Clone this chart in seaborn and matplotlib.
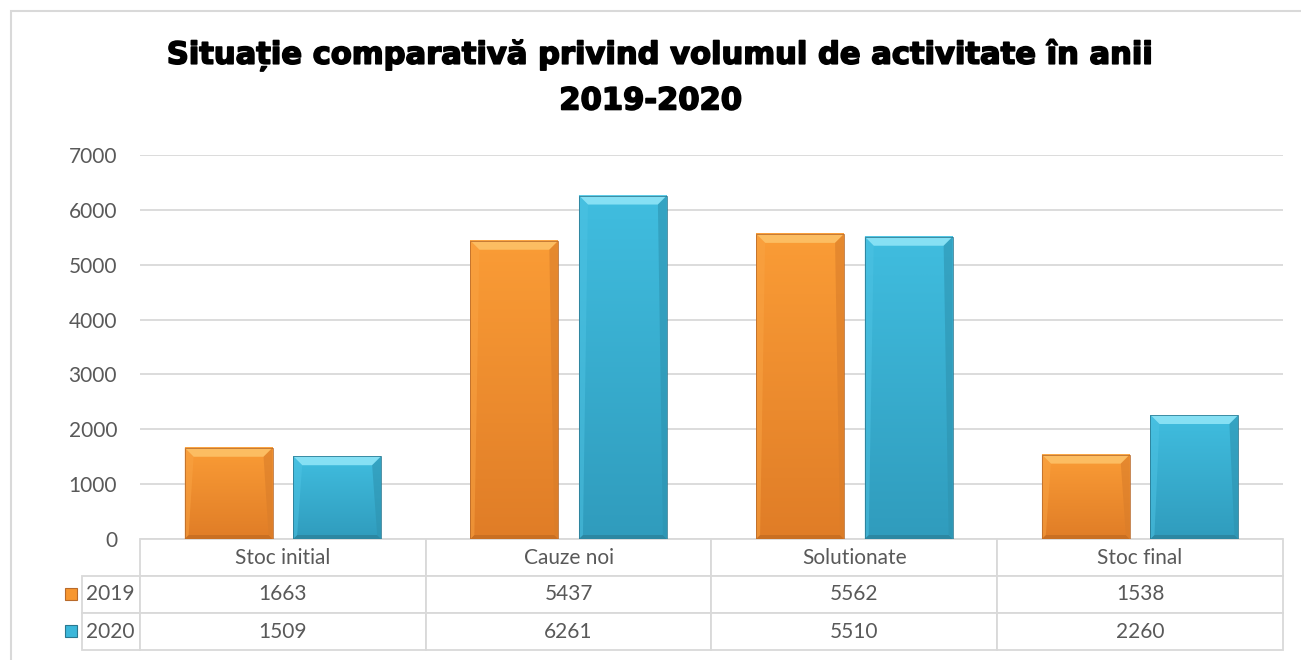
import numpy as np
import pandas as pd
import matplotlib
matplotlib.use("Agg")
import matplotlib.pyplot as plt
from matplotlib.patches import Polygon, Rectangle
from matplotlib.colors import LinearSegmentedColormap
import matplotlib.patheffects as pe
import seaborn as sns

categories = ["Stoc initial", "Cauze noi", "Solutionate", "Stoc final"]
years = ["2019", "2020"]
values_2019 = [1663, 5437, 5562, 1538]
values_2020 = [1509, 6261, 5510, 2260]
yticks = [0, 1000, 2000, 3000, 4000, 5000, 6000, 7000]
title_lines = ["Situație comparativă privind volumul de activitate în anii", "2019-2020"]

colors = {"2019": "#F7962F", "2020": "#3BB7DA"}
bevel = {
    "2019": dict(top="#FCBD62", bottom="#C96F22", left="#F9A444", right="#D97D2A",
                 grad_top="#FA9C36", grad_bot="#E07D27", edge="#B86A2A"),
    "2020": dict(top="#86E0F4", bottom="#2C87A2", left="#4EC3E3", right="#2E93B0",
                 grad_top="#40BDDF", grad_bot="#309CBD", edge="#2A7890"),
}

df = pd.DataFrame({
    "cat": categories * 2,
    "val": values_2019 + values_2020,
    "year": [years[0]] * 4 + [years[1]] * 4,
})

sns.set_theme(style="white")
plt.rcParams["font.family"] = ["Lato", "DejaVu Sans"]

W, H = 1301, 660
fig = plt.figure(figsize=(W / 100, H / 100), dpi=100)
L, R, T, B = 140, 1283, 155, 539
ax = fig.add_axes([L / W, 1 - B / H, (R - L) / W, (B - T) / H])

sns.barplot(data=df, x="cat", y="val", hue="year", palette=colors,
            width=0.76, gap=0.19, legend=False, ax=ax, zorder=3,
            edgecolor="none", linewidth=0)

ax.set_xlim(-0.5, 3.5)
ax.set_ylim(0, 7000)
ax.set_yticks(yticks)
ax.set_yticklabels([str(v) for v in yticks], color="#595959", fontsize=15)
ax.tick_params(axis="y", length=0, pad=16.5)
ax.set_xticks([])
ax.set_xlabel("")
ax.set_ylabel("")
for s in ax.spines.values():
    s.set_visible(False)
ax.grid(axis="y", color="#D9D9D9", linewidth=1.3, zorder=0)
ax.set_axisbelow(True)

# bevel effect on bars
bpx = 9
bx = bpx * 4.0 / (R - L)
by = bpx * 7000.0 / (B - T)
bpx_b = 4
byb = bpx_b * 7000.0 / (B - T)
bxb = bpx_b * 4.0 / (R - L)
bars = [p for p in ax.patches if isinstance(p, Rectangle) and p.get_height() > 0]
for p in bars:
    x0, y0, w, h = p.get_x(), p.get_y(), p.get_width(), p.get_height()
    x1, y1 = x0 + w, y0 + h
    xc = x0 + w / 2
    yr = "2019" if (xc - round(xc)) < 0 else "2020"
    c = bevel[yr]
    cmap = LinearSegmentedColormap.from_list("g", [c["grad_bot"], c["grad_top"]])
    grad = np.linspace(0, 1, 64).reshape(-1, 1)
    ax.imshow(grad, extent=[x0, x1, y0, y1], origin="lower", aspect="auto",
              cmap=cmap, zorder=3.5, interpolation="bilinear")
    ax.add_patch(Polygon([(x0, y1), (x1, y1), (x1 - bx, y1 - by), (x0 + bx, y1 - by)],
                         closed=True, facecolor=c["top"], edgecolor="none", zorder=4))
    ax.add_patch(Polygon([(x0, y0), (x1, y0), (x1 - bxb, y0 + byb), (x0 + bxb, y0 + byb)],
                         closed=True, facecolor=c["bottom"], edgecolor="none", zorder=4))
    ax.add_patch(Polygon([(x0, y0), (x0, y1), (x0 + bx, y1 - by), (x0 + bxb, y0 + byb)],
                         closed=True, facecolor=c["left"], edgecolor="none", zorder=4, alpha=0.5))
    ax.add_patch(Polygon([(x1, y0), (x1, y1), (x1 - bx, y1 - by), (x1 - bxb, y0 + byb)],
                         closed=True, facecolor=c["right"], edgecolor="none", zorder=4, alpha=0.6))
    ax.add_patch(Rectangle((x0, y0), w, h, facecolor="none", edgecolor=c["edge"],
                           linewidth=0.7, zorder=4.5, alpha=0.8))
ax.set_xlim(-0.5, 3.5)
ax.set_ylim(0, 7000)

# data table
tab_h = (650 - B) / (B - T)
cell_text = [[str(v) for v in values_2019], [str(v) for v in values_2020]]
row_w = (L - 55) / (R - L)
tbl = ax.table(cellText=cell_text, rowLabels=years,
               colLabels=categories, colWidths=[0.25] * 4, rowLoc="right",
               cellLoc="center", loc="bottom",
               bbox=[0, -tab_h, 1, tab_h])
tbl.auto_set_font_size(False)
for (r, cidx), cell in tbl.get_celld().items():
    cell.set_edgecolor("#D9D9D9")
    cell.set_linewidth(1.3)
    cell.get_text().set_color("#595959")
    cell.get_text().set_fontsize(15)
for r in (1, 2):
    tbl[r, -1].set_width(row_w)
    tbl[r, -1].PAD = 0.1

# legend keys in the table
ksz_x = 12 / (R - L)
ksz_y = 12 / (B - T)
for yr, yc in zip(years, [(B - 594) / (B - T), (B - 631) / (B - T)]):
    kx = (65 - L) / (R - L)
    ax.add_patch(Rectangle((kx, yc - ksz_y / 2), ksz_x, ksz_y, transform=ax.transAxes,
                           facecolor=colors[yr], edgecolor=bevel[yr]["edge"],
                           linewidth=0.8, clip_on=False, zorder=6))

for i, line in enumerate(title_lines):
    fig.text(0.5 + (0.006 if i == 0 else 0.0), 1 - (55 + 46 * i) / H, line,
             ha="center", va="center", fontsize=22, fontweight="heavy",
             family="DejaVu Sans", color="black",
             path_effects=[pe.withStroke(linewidth=1.2, foreground="black")])

# chart area border
fig.add_artist(Rectangle((11 / W, -0.1), 1.2, 1 - 11 / H + 0.1, transform=fig.transFigure,
                         facecolor="none", edgecolor="#D9D9D9", linewidth=1.5))

fig.savefig("out.png", dpi=100)
